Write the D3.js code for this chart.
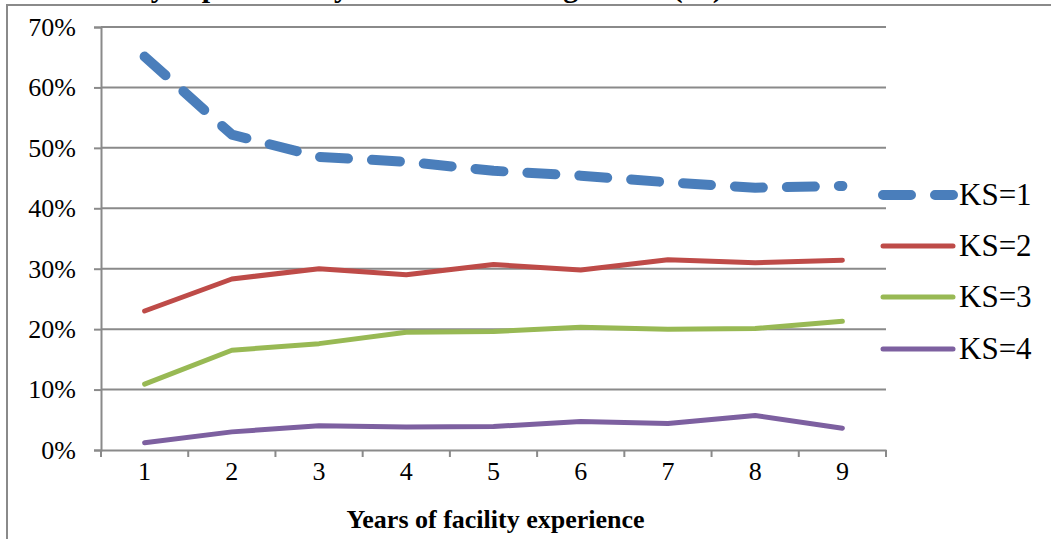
<!DOCTYPE html>
<html>
<head>
<meta charset="utf-8">
<script src="https://cdn.jsdelivr.net/npm/d3@7"></script>
<style>
  html, body { margin: 0; padding: 0; background: #fff; }
  svg { display: block; }
  text { font-family: "Liberation Serif", "Times New Roman", serif; fill: #000; }
</style>
</head>
<body>
<svg id="chart" width="1051" height="539"></svg>
<script>
// Years of facility experience (x categories)
const years = ["1", "2", "3", "4", "5", "6", "7", "8", "9"];
// Share of staff at each knowledge score, by years of experience
const ks1 = [0.651, 0.522, 0.485, 0.477, 0.462, 0.454, 0.443, 0.434, 0.437];
const ks2 = [0.230, 0.283, 0.300, 0.290, 0.307, 0.298, 0.315, 0.310, 0.314];
const ks3 = [0.109, 0.165, 0.176, 0.195, 0.196, 0.203, 0.200, 0.201, 0.213];
const ks4 = [0.012, 0.030, 0.040, 0.038, 0.039, 0.047, 0.044, 0.057, 0.036];
const seriesNames = ["KS=1", "KS=2", "KS=3", "KS=4"];
const yTicks = [0, 0.1, 0.2, 0.3, 0.4, 0.5, 0.6, 0.7];
const titleText = "Facility experience by level of knowledge score (%)";
const xTitle = "Years of facility experience";

(function () {
  const series = [
    { name: seriesNames[0], values: ks1, color: "#4a7ebb", width: 10, dash: "28,24" },
    { name: seriesNames[1], values: ks2, color: "#be4b48", width: 5, dash: null },
    { name: seriesNames[2], values: ks3, color: "#98b954", width: 5, dash: null },
    { name: seriesNames[3], values: ks4, color: "#7d60a0", width: 5, dash: null }
  ];

  const svg = d3.select("#chart");
  const grid = "#8a8a8a";

  // Outer frame of the chart area (continues past the right and bottom edges)
  svg.append("rect")
    .attr("x", 7).attr("y", 5).attr("width", 1200).attr("height", 700)
    .attr("fill", "none").attr("stroke", grid).attr("stroke-width", 2);

  // Heading above the frame
  const title = svg.append("text")
    .attr("y", -3)
    .attr("font-size", 30).attr("font-weight", "bold")
    .text(titleText);
  {
    const node = title.node();
    const idx = titleText.indexOf("p");
    const pos = node.getStartPositionOfChar(idx).x;
    const w = node.getExtentOfChar(idx).width;
    title.attr("x", 210 - (pos + w / 2));
  }

  const plotL = 101, plotR = 886, plotT = 27, plotB = 450;

  const x = d3.scaleBand().domain(years).range([plotL, plotR]).padding(0);
  const y = d3.scaleLinear().domain([0, 0.7]).range([plotB, plotT]);

  // Horizontal gridlines
  svg.append("g")
    .selectAll("line")
    .data(yTicks.filter(d => d > 0))
    .join("line")
    .attr("x1", plotL).attr("x2", plotR)
    .attr("y1", d => y(d)).attr("y2", d => y(d))
    .attr("stroke", grid).attr("stroke-width", 2);

  // Y axis
  const yAxis = svg.append("g")
    .attr("transform", `translate(${plotL},0)`)
    .call(d3.axisLeft(y).tickValues(yTicks).tickFormat(d3.format(".0%")).tickSize(7).tickPadding(18));
  yAxis.select(".domain").attr("stroke", grid).attr("stroke-width", 2);
  yAxis.selectAll(".tick line").attr("stroke", grid).attr("stroke-width", 2);
  yAxis.selectAll(".tick text")
    .attr("font-family", "Liberation Serif, serif").attr("font-size", 26).attr("fill", "#000");

  // X axis with tick marks on category boundaries
  const xAxis = svg.append("g")
    .attr("transform", `translate(0,${plotB})`)
    .call(d3.axisBottom(x).tickSize(0).tickPadding(12));
  xAxis.select(".domain").attr("stroke", grid).attr("stroke-width", 2);
  xAxis.selectAll(".tick text")
    .attr("font-family", "Liberation Serif, serif").attr("font-size", 26).attr("fill", "#000");
  const bounds = years.map(d => x(d)).concat([x(years[years.length - 1]) + x.bandwidth()]);
  xAxis.append("g")
    .selectAll("line")
    .data(bounds)
    .join("line")
    .attr("x1", d => d).attr("x2", d => d)
    .attr("y1", 0).attr("y2", 7)
    .attr("stroke", grid).attr("stroke-width", 2);

  // X axis title
  svg.append("text")
    .attr("x", (plotL + plotR) / 2 + 2).attr("y", 528)
    .attr("text-anchor", "middle")
    .attr("font-size", 26).attr("font-weight", "bold")
    .text(xTitle);

  // Series lines
  const line = d3.line()
    .x((d, i) => x(years[i]) + x.bandwidth() / 2)
    .y(d => y(d));

  svg.append("g")
    .selectAll("path")
    .data(series.slice().reverse())
    .join("path")
    .attr("d", s => line(s.values))
    .attr("fill", "none")
    .attr("stroke", s => s.color)
    .attr("stroke-width", s => s.width)
    .attr("stroke-linecap", "round")
    .attr("stroke-linejoin", "round")
    .attr("stroke-dasharray", s => s.dash);

  // Legend
  const legendY = [195, 246, 297, 349];
  const lg = svg.append("g");
  series.forEach((s, i) => {
    lg.append("line")
      .attr("x1", 883).attr("x2", 953)
      .attr("y1", legendY[i]).attr("y2", legendY[i])
      .attr("stroke", s.color)
      .attr("stroke-width", s.width)
      .attr("stroke-linecap", "round")
      .attr("stroke-dasharray", s.dash);
    lg.append("text")
      .attr("x", 959).attr("y", legendY[i] + 10)
      .attr("font-size", 31)
      .text(s.name);
  });
})();
</script>
</body>
</html>
